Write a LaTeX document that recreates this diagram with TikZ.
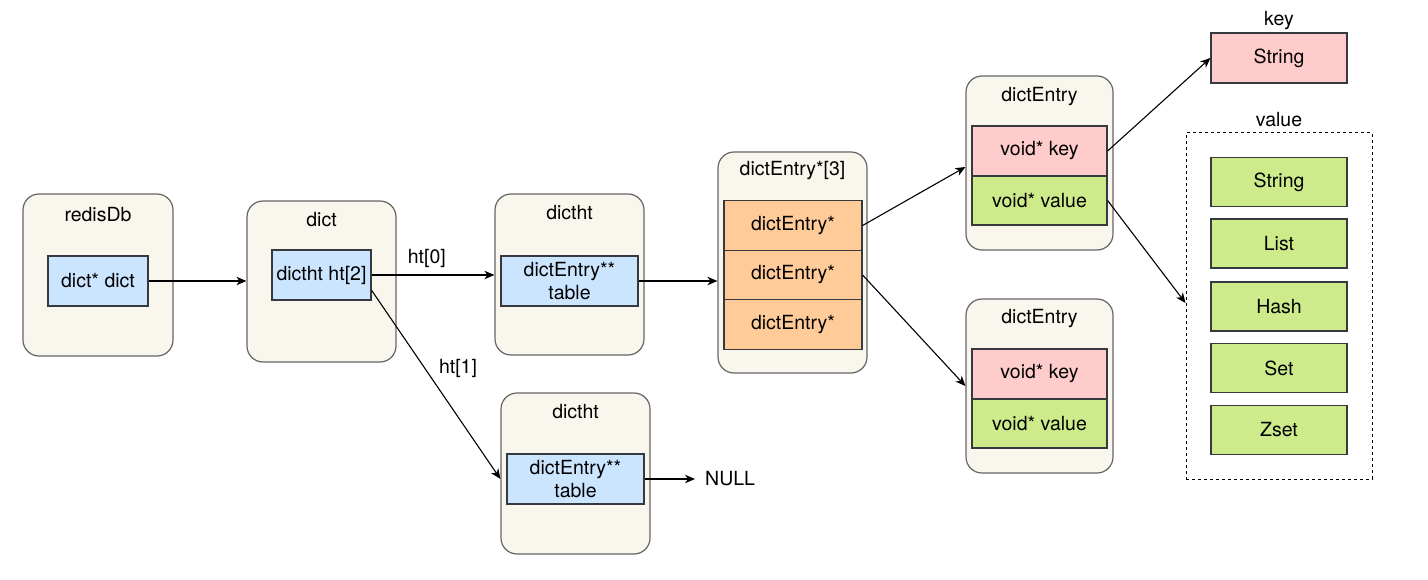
\documentclass[tikz,border=0pt]{standalone}
\usepackage{fontspec}
\setmainfont{TeX Gyre Heros}
\usetikzlibrary{arrows.meta}
\definecolor{contfill}{HTML}{F9F7ED}
\definecolor{contline}{HTML}{666666}
\definecolor{boxline}{HTML}{36393D}
\definecolor{bluefill}{HTML}{CCE5FF}
\definecolor{orangefill}{HTML}{FFCC99}
\definecolor{pinkfill}{HTML}{FFCCCC}
\definecolor{greenfill}{HTML}{CDEB8B}
\tikzset{
  container/.style={draw=contline, fill=contfill, rounded corners=16pt, line width=1.2pt, inner sep=0pt},
  field/.style={draw=boxline, line width=1.2pt, inner sep=0pt, align=center, font=\fontsize{19.5}{23}\selectfont},
  bluebox/.style={field, fill=bluefill},
  orangebox/.style={field, fill=orangefill},
  pinkbox/.style={field, fill=pinkfill},
  greenbox/.style={field, fill=greenfill},
  title/.style={inner sep=0pt, font=\fontsize{19.5}{23}\selectfont},
  conn/.style={line width=1.1pt, draw=black, -{Stealth[length=10pt,width=8.5pt,inset=3pt]}},
}
\begin{document}
\begin{tikzpicture}[x=1pt,y=-1pt]
\useasboundingbox[fill=white] (0,0) rectangle (1428,580);
% containers
\node[container, minimum width=150pt, minimum height=162pt] (redis) at (98,275) {};
\node[container, minimum width=149pt, minimum height=161pt] (dict) at (321.5,281.5) {};
\node[container, minimum width=149pt, minimum height=161pt] (dht1) at (569.5,274.5) {};
\node[container, minimum width=149pt, minimum height=221pt] (arr) at (792.5,262.5) {};
\node[container, minimum width=149pt, minimum height=161pt] (dht2) at (575.5,473.5) {};
\node[container, minimum width=147pt, minimum height=174pt] (de1) at (1039.5,163) {};
\node[container, minimum width=147pt, minimum height=174pt] (de2) at (1039.5,386) {};
% titles
\node[title] (tredis) at (98,215) {redisDb};
\node[title] (tdict) at (321.5,220) {dict};
\node[title] (tdht1) at (569.5,213) {dictht};
\node[title] (tarr) at (792.5,171) {dictEntry*[3]};
\node[title] (tdht2) at (575.5,412) {dictht};
\node[title] (tde1) at (1039.5,97) {dictEntry};
\node[title] (tde2) at (1039.5,319) {dictEntry};
% inner fields
\node[bluebox, minimum width=100pt, minimum height=50pt] (dd) at (98,281) {dict* dict};
\node[bluebox, minimum width=99pt, minimum height=50pt] (ht2) at (321.5,275) {dictht ht[2]};
\node[bluebox, minimum width=137pt, minimum height=50pt] (tbl1) at (569.5,281) {dictEntry**\\table};
\node[bluebox, minimum width=137pt, minimum height=50pt] (tbl2) at (575.5,479) {dictEntry**\\table};
\node[orangebox, minimum width=138pt, minimum height=49.5pt] (r1) at (793,225.5) {dictEntry*};
\node[orangebox, minimum width=138pt, minimum height=49.5pt] (r2) at (793,275) {dictEntry*};
\node[orangebox, minimum width=138pt, minimum height=49.5pt] (r3) at (793,324.5) {dictEntry*};
\node[pinkbox, minimum width=135pt, minimum height=50pt] (k1) at (1039.5,151) {void* key};
\node[greenbox, minimum width=135pt, minimum height=49pt] (v1) at (1039.5,200.5) {void* value};
\node[pinkbox, minimum width=135pt, minimum height=50pt] (k2) at (1039.5,374) {void* key};
\node[greenbox, minimum width=135pt, minimum height=49pt] (v2) at (1039.5,423.5) {void* value};
% key / value
\node[title] (tkey) at (1279,21) {key};
\node[pinkbox, minimum width=136pt, minimum height=50pt] (kstr) at (1279,58) {String};
\node[title] (tval) at (1279,120) {value};
\node[draw=black, dashed, line width=1pt, minimum width=186pt, minimum height=346pt, inner sep=0pt] (vals) at (1279,306) {};
\node[greenbox, minimum width=136pt, minimum height=49pt] (vs) at (1279,182) {String};
\node[greenbox, minimum width=136pt, minimum height=49pt] (vl) at (1279,243.5) {List};
\node[greenbox, minimum width=136pt, minimum height=49pt] (vh) at (1279,306.5) {Hash};
\node[greenbox, minimum width=136pt, minimum height=49pt] (vset) at (1279,368) {Set};
\node[greenbox, minimum width=136pt, minimum height=49pt] (vz) at (1279,430) {Zset};
% NULL
\node[title, anchor=west, inner sep=10pt] (null) at (695,479) {NULL};
% connectors
\draw[conn] (dd.east) -- (dd.east -| dict.west);
\draw[conn] (ht2.east) -- node[title, above=7pt, pos=0.45] (lht0) {ht[0]} (ht2.east -| dht1.west);
\draw[conn] (tbl1.east) -- (tbl1.east -| arr.west);
\draw[conn] (ht2.-17) -- (tbl2.west -| dht2.west);
\node[title] (lht1) at (458,368) {ht[1]};
\draw[conn] (tbl2.east) -- (null.west);
\draw[conn] (r1.east) -- ([yshift=-4pt]de1.west);
\draw[conn] (r2.east) -- (de2.west);
\draw[conn] (k1.east) -- (kstr.west);
\draw[conn] (v1.east) -- ([yshift=3pt]vals.west);
\end{tikzpicture}
\end{document}
